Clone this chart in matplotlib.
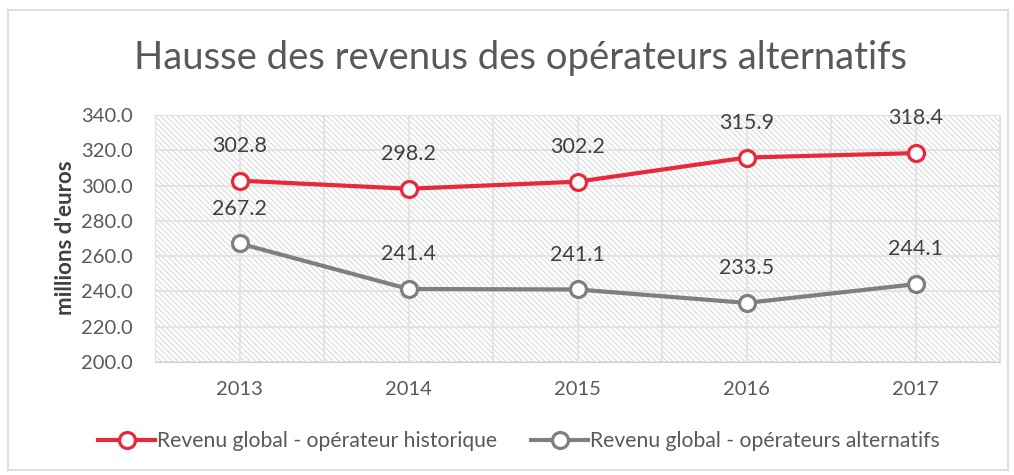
import matplotlib.pyplot as plt
from matplotlib.patches import Rectangle

plt.rcParams['font.family'] = ['Lato', 'DejaVu Sans']
plt.rcParams['hatch.linewidth'] = 0.8

# --- data ---
years = ['2013', '2014', '2015', '2016', '2017']
historique = [302.8, 298.2, 302.2, 315.9, 318.4]
alternatifs = [267.2, 241.4, 241.1, 233.5, 244.1]
series_names = ['Revenu global - opérateur historique',
                'Revenu global - opérateurs alternatifs']

RED = '#E8293B'
GREY = '#7F7F7F'
TXT = '#595959'

fig = plt.figure(figsize=(10.14, 4.75), dpi=100)
ax = fig.add_axes([155 / 1014, 1 - 362 / 475, 845 / 1014, 247 / 475])

# hatched plot area
ax.add_patch(Rectangle((0, 0), 1, 1, transform=ax.transAxes, facecolor='white',
                       edgecolor='#dadada', lw=0, hatch='\\' * 6, zorder=0.5))

x = list(range(len(years)))
for vals, col, name in [(historique, RED, series_names[0]),
                        (alternatifs, GREY, series_names[1])]:
    ax.plot(x, vals, color=col, lw=3.0, marker='o', ms=11.5, mfc='white',
            mec=col, mew=2.3, label=name, zorder=3)
    for xi, v in zip(x, vals):
        ax.annotate(f'{v:.1f}', (xi, v), xytext=(0, 25), textcoords='offset points',
                    ha='center', va='center', fontsize=15.5, color='#404040', zorder=4)

ax.set_xlim(-0.5, 4.5)
ax.set_ylim(200, 340)
ax.set_yticks(range(200, 341, 20))
ax.set_yticklabels([f'{v:.1f}' for v in range(200, 341, 20)])
ax.set_xticks(x)
ax.set_xticklabels(years)
ax.set_xticks([i - 0.5 for i in range(6)], minor=True)
ax.tick_params(axis='both', which='both', length=0, labelsize=14.5, labelcolor=TXT)
ax.tick_params(axis='y', pad=16)
ax.tick_params(axis='x', pad=14)
ax.grid(True, which='both', color='#e0e0e0', lw=1.2, zorder=1)
for s in ax.spines.values():
    s.set_color('#e0e0e0')
ax.spines['bottom'].set_color('#d0d0d0')

fig.text(65 / 1014, 1 - 238 / 475, "millions d'euros", rotation=90, ha='center',
         va='center', fontsize=16, fontweight='bold', color='#404040')

fig.suptitle('Hausse des revenus des opérateurs alternatifs', x=0.513,
             y=1 - 58 / 475, va='center', fontsize=27.5, color=TXT)

leg = fig.legend(loc='center', bbox_to_anchor=(0.512, 1 - 441 / 475), ncol=2,
                 frameon=False, fontsize=15.2, handlelength=2.7, handletextpad=0.1,
                 columnspacing=1.6)
for t in leg.get_texts():
    t.set_color(TXT)

# outer chart border
fig.patches.append(Rectangle((8 / 1014, 5 / 475), 1000 / 1014, 460 / 475,
                             transform=fig.transFigure, fill=False,
                             edgecolor='#d9d9d9', lw=1.2))

fig.savefig('out.png', dpi=100)
